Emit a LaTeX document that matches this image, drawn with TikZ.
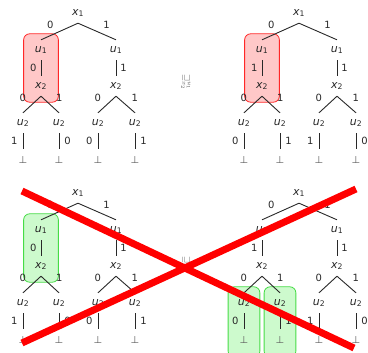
\documentclass[tikz,border=0pt]{standalone}
\usepackage{amssymb}
\usepackage{fontspec}
\setmainfont{DejaVu Sans}
\usetikzlibrary{positioning, fit, backgrounds}

\definecolor{boxred}{RGB}{255,40,40}
\definecolor{boxredfill}{RGB}{255,200,200}
\definecolor{boxgreen}{RGB}{70,220,70}
\definecolor{boxgreenfill}{RGB}{205,250,205}
\definecolor{inkgray}{RGB}{40,40,40}

% variable with index, e.g. u_1
\newcommand{\vx}[2]{\textit{#1}\textsubscript{#2}}

% one tree: #1 prefix, #2 root position, #3 label below left u1, #4-#7 leaf labels
\newcommand{\bddtree}[7]{%
    \node (#1root) [var_node] at (#2) {\vx{x}{1}};
    \node (#1ua) [var_node, below left=37bp and 37bp of #1root] {\vx{u}{1}};
    \node (#1ub) [var_node, below right=37bp and 38bp of #1root] {\vx{u}{1}};
    \node (#1xa) [var_node, below=36bp of #1ua] {\vx{x}{2}};
    \node (#1xb) [var_node, below=36bp of #1ub] {\vx{x}{2}};
    \node (#1ua1) [var_node, below left=37bp and 18bp of #1xa] {\vx{u}{2}};
    \node (#1ua2) [var_node, below right=37bp and 18bp of #1xa] {\vx{u}{2}};
    \node (#1ub1) [var_node, below left=37bp and 18bp of #1xb] {\vx{u}{2}};
    \node (#1ub2) [var_node, below right=37bp and 19bp of #1xb] {\vx{u}{2}};
    \node (#1ba1) [bot_node, below=37bp of #1ua1] {⊥};
    \node (#1ba2) [bot_node, below=37bp of #1ua2] {⊥};
    \node (#1bb1) [bot_node, below=37bp of #1ub1] {⊥};
    \node (#1bb2) [bot_node, below=37bp of #1ub2] {⊥};
    \draw [edge] (#1root.south) -- node[edge_label, pos=0.75, above=6bp] {0} (#1ua.north);
    \draw [edge] (#1root.south) -- node[edge_label, pos=0.75, above=6bp] {1} (#1ub.north);
    \draw [edge] (#1ua) -- node[edge_label, left=3bp] {#3} (#1xa);
    \draw [edge] (#1ub) -- node[edge_label, right=3bp] {1} (#1xb);
    \draw [edge] (#1xa.south) -- node[edge_label, pos=0.6, above left=4bp] {0} (#1ua1.north);
    \draw [edge] (#1xa.south) -- node[edge_label, pos=0.6, above right=4bp] {1} (#1ua2.north);
    \draw [edge] (#1xb.south) -- node[edge_label, pos=0.6, above left=4bp] {0} (#1ub1.north);
    \draw [edge] (#1xb.south) -- node[edge_label, pos=0.6, above right=4bp] {1} (#1ub2.north);
    \draw [edge] (#1ua1) -- node[edge_label, left=4bp] {#4} (#1ba1);
    \draw [edge] (#1ua2) -- node[edge_label, right=4bp] {#5} (#1ba2);
    \draw [edge] (#1ub1) -- node[edge_label, left=4bp] {#6} (#1bb1);
    \draw [edge] (#1ub2) -- node[edge_label, right=4bp] {#7} (#1bb2);
}

\begin{document}
\begin{tikzpicture}[
    x=1bp, y=-1bp, on grid,
    % Define styles for the nodes
    var_node/.style={inner sep=1bp, minimum height=20bp, text=inkgray, font=\fontsize{11}{12}\selectfont},
    bot_node/.style={inner sep=1bp, minimum height=22bp, text=inkgray!75, font=\fontsize{10}{11}\selectfont},
    edge_label/.style={inner sep=1bp, text=inkgray, font=\fontsize{10}{11}\selectfont},
    rel_node/.style={inner sep=0pt, rotate=-90, text=inkgray!80, font=\fontsize{9}{10}\selectfont},
    red_box/.style={draw=boxred, fill=boxredfill, line width=0.8bp, rounded corners=6bp, inner xsep=10bp, inner ysep=6bp},
    green_box/.style={draw=boxgreen, fill=boxgreenfill, line width=0.8bp, rounded corners=6bp, inner xsep=10bp, inner ysep=6bp},
    leaf_box/.style={green_box, inner xsep=8.5bp},
    % Styles for lines
    edge/.style={draw=inkgray, line width=0.9bp},
    cross/.style={draw=red, line width=7bp}
]
    \useasboundingbox (0,0) rectangle (368,353);

    % =========================================================================
    % TOP ROW - the two trees and the relation between them
    % =========================================================================
    \bddtree{tl}{78,13}{0}{1}{0}{0}{1}
    \bddtree{tr}{299,13}{1}{0}{1}{1}{0}
    \node (rel_top) [rel_node] at (186,82) {$\sqsupseteq^{u_1}_{x_2}$};

    % =========================================================================
    % BOTTOM ROW - crossed out
    % =========================================================================
    \bddtree{bl}{78,193}{0}{1}{0}{0}{1}
    \bddtree{br}{299,193}{1}{0}{1}{1}{0}
    \node (rel_bottom) [rel_node] at (186,264) {$\sqsupseteq^{u_1}_{x_2}$};

    % Highlight boxes behind the nodes
    \begin{scope}[on background layer]
        \node (tl_box) [red_box, fit=(tlua) (tlxa)] {};
        \node (tr_box) [red_box, fit=(trua) (trxa)] {};
        \node (bl_box) [green_box, fit=(blua) (blxa)] {};
        \node (br_box_a) [leaf_box, fit=(brua1) (brba1)] {};
        \node (br_box_b) [leaf_box, fit=(brua2) (brba2)] {};
    \end{scope}

    % Red cross over the bottom row
    \coordinate (cross_nw) at (22,191);
    \coordinate (cross_se) at (354,348);
    \coordinate (cross_sw) at (22,343);
    \coordinate (cross_ne) at (356,189);
    \draw [cross] (cross_nw) -- (cross_se);
    \draw [cross] (cross_sw) -- (cross_ne);

\end{tikzpicture}
\end{document}
